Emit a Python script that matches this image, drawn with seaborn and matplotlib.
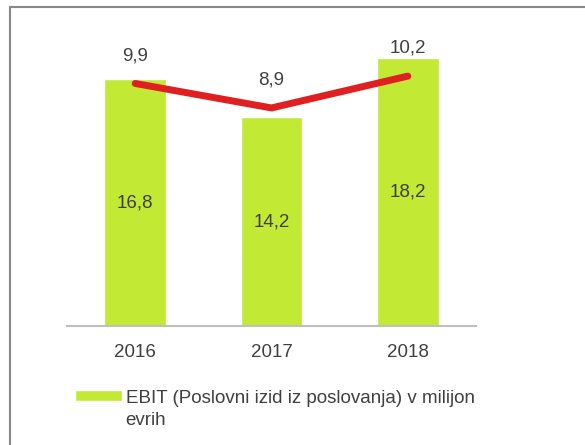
import numpy as np
import pandas as pd
import matplotlib
matplotlib.use("Agg")
import matplotlib.pyplot as plt
import seaborn as sns
from matplotlib.patches import Rectangle, Patch
from matplotlib.legend_handler import HandlerPatch

years = ["2016", "2017", "2018"]
ebit = [16.8, 14.2, 18.2]
margin = [9.9, 8.9, 10.2]
legend_label = "EBIT (Poslovni izid iz poslovanja) v milijon\nevrih"

green = "#c2e934"
red = "#e02020"
txt = "#404040"
fs = 13.5

sns.set_style("white")
plt.rcParams["font.family"] = ["Liberation Sans", "DejaVu Sans"]

df = pd.DataFrame({"year": years, "ebit": ebit, "margin": margin})

fig = plt.figure(figsize=(5.85, 4.45), dpi=100)
ax = fig.add_axes([67 / 585, 1 - 326 / 445, 409 / 585, 294 / 445])

sns.barplot(data=df, x="year", y="ebit", color=green, saturation=1,
            width=0.45, ax=ax)
ax.set_ylim(0, 20)
ax.set_xlim(-0.5, 2.5)

for i, v in enumerate(ebit):
    ax.text(i, v / 2, f"{v:.1f}".replace(".", ","), ha="center", va="center",
            fontsize=fs, color=txt)

ax2 = ax.twinx()
pos = np.arange(len(years))
sns.lineplot(x=pos, y=margin, ax=ax2, color=red, linewidth=5,
             solid_capstyle="round")
ax2.set_ylim(0, 12)
ax2.set_xlim(-0.5, 2.5)
for i, v in enumerate(margin):
    ax2.annotate(f"{v:.1f}".replace(".", ","), (i, v), xytext=(0, 20),
                 textcoords="offset points", ha="center", va="center",
                 fontsize=fs, color=txt)

for a in (ax, ax2):
    a.set_yticks([])
    a.set_ylabel("")
    a.set_xlabel("")
    for s in a.spines.values():
        s.set_visible(False)
ax.spines["bottom"].set_visible(True)
ax.spines["bottom"].set_color("#bfbfbf")
ax.spines["bottom"].set_linewidth(1.5)
ax.tick_params(axis="x", length=0, pad=13, labelsize=fs, labelcolor=txt)

fig.patches.append(Rectangle((10 / 585, -0.1), 1.0, 1.1 - 7 / 445,
                             transform=fig.transFigure, fill=False,
                             edgecolor="#888888", linewidth=1.5))


# legend patch sits on the first text line
def top_patch(legend, orig_handle, xdescent, ydescent, width, height, fontsize):
    return Rectangle((-xdescent, -ydescent + 0.75 * fontsize), width, height)


leg = fig.legend(handles=[Patch(facecolor=green, label=legend_label)],
                 handler_map={Patch: HandlerPatch(patch_func=top_patch)},
                 loc="upper left", bbox_to_anchor=(75 / 585, 1 - 390 / 445),
                 frameon=False, fontsize=fs, handlelength=2.5,
                 handleheight=0.5, handletextpad=0.2, borderpad=0,
                 borderaxespad=0, labelcolor=txt)
leg.get_texts()[0].set_linespacing(1.4)

fig.savefig("out.png", dpi=100)
